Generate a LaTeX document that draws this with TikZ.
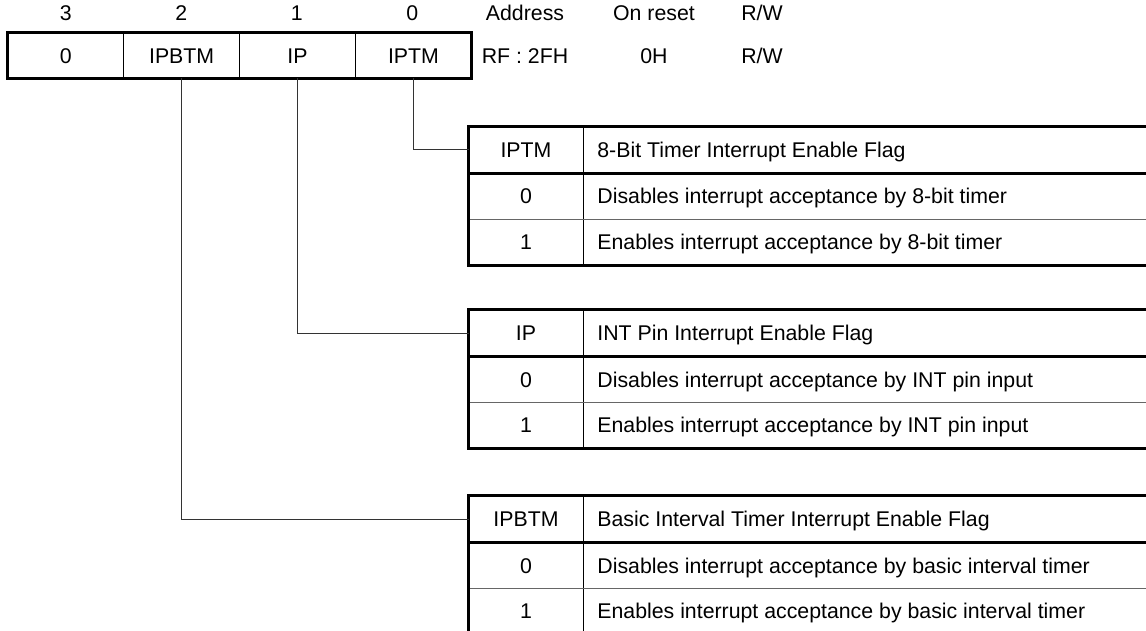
\documentclass[tikz,border=0pt]{standalone}
\usepackage{fontspec}
\setmainfont{Liberation Sans}
\usetikzlibrary{positioning}
\tikzset{
  txt/.style={font=\fontsize{21.3}{25}\selectfont, inner sep=0pt, text height=15.2pt, text depth=0pt},
  regcell/.style={txt, minimum width=115.5pt, minimum height=45pt},
  keycell/.style={txt, minimum width=114pt, minimum height=46pt},
  desccell/.style={txt, anchor=west},
  thickrule/.style={line width=3pt},
  thinrule/.style={line width=1pt},
  grayrule/.style={line width=1pt, black!60},
  leader/.style={line width=1pt, black!80},
}

\begin{document}
\begin{tikzpicture}[x=1pt, y=-1pt]
  \useasboundingbox (0,0) rectangle (1146,631);
  \clip (0,0) rectangle (1146,631);

  % Register: bit numbers and header
  \node[txt] (n3) at (65.75,13) {3};
  \node[txt] (n2) at (181.25,13) {2};
  \node[txt] (n1) at (296.75,13) {1};
  \node[txt] (n0) at (412.25,13) {0};
  \node[txt] (hAddr) at (525,13) {Address};
  \node[txt] (hReset) at (654,13) {On reset};
  \node[txt] (hRW) at (762,13) {R/W};

  % Register: cells
  \node[regcell] (b3) at (65.75,55.5) {0};
  \node[regcell, right=0pt of b3] (b2) {IPBTM};
  \node[regcell, right=0pt of b2] (b1) {IP};
  \node[regcell, right=0pt of b1] (b0) {IPTM};
  \draw[thinrule] (b3.north east) -- (b3.south east);
  \draw[thinrule] (b2.north east) -- (b2.south east);
  \draw[thinrule] (b1.north east) -- (b1.south east);
  \draw[thickrule] (b3.north west) rectangle (b0.south east);
  \node[txt] (vAddr) at (525,55.5) {RF : 2FH};
  \node[txt] (vReset) at (654,55.5) {0H};
  \node[txt] (vRW) at (762,55.5) {R/W};

  % Table 1 - IPTM
  \node[keycell] (t1key) at (526,150) {IPTM};
  \node[keycell, below=0pt of t1key] (t1k0) {0};
  \node[keycell, below=0pt of t1k0, minimum height=45pt] (t1k1) {1};
  \node[desccell, right=14pt of t1key] (t1desc) {8-Bit Timer Interrupt Enable Flag};
  \node[desccell, right=14pt of t1k0] (t1d0) {Disables interrupt acceptance by 8-bit timer};
  \node[desccell, right=14pt of t1k1] (t1d1) {Enables interrupt acceptance by 8-bit timer};
  \draw[thinrule] (t1key.north east) -- (t1k1.south east);
  \draw[grayrule] (t1k0.south west) -- ++(720,0);
  \draw[thickrule] (t1key.south west) -- ++(720,0);
  \draw[thickrule] (t1key.north west) rectangle ([xshift=720pt]t1k1.south west);

  % Table 2 - IP
  \node[keycell] (t2key) at (526,333) {IP};
  \node[keycell, below=0pt of t2key] (t2k0) {0};
  \node[keycell, below=0pt of t2k0, minimum height=45pt] (t2k1) {1};
  \node[desccell, right=14pt of t2key] (t2desc) {INT Pin Interrupt Enable Flag};
  \node[desccell, right=14pt of t2k0] (t2d0) {Disables interrupt acceptance by INT pin input};
  \node[desccell, right=14pt of t2k1] (t2d1) {Enables interrupt acceptance by INT pin input};
  \draw[thinrule] (t2key.north east) -- (t2k1.south east);
  \draw[grayrule] (t2k0.south west) -- ++(720,0);
  \draw[thickrule] (t2key.south west) -- ++(720,0);
  \draw[thickrule] (t2key.north west) rectangle ([xshift=720pt]t2k1.south west);

  % Table 3 - IPBTM
  \node[keycell] (t3key) at (526,519) {IPBTM};
  \node[keycell, below=0pt of t3key] (t3k0) {0};
  \node[keycell, below=0pt of t3k0, minimum height=45pt] (t3k1) {1};
  \node[desccell, right=14pt of t3key] (t3desc) {Basic Interval Timer Interrupt Enable Flag};
  \node[desccell, right=14pt of t3k0] (t3d0) {Disables interrupt acceptance by basic interval timer};
  \node[desccell, right=14pt of t3k1] (t3d1) {Enables interrupt acceptance by basic interval timer};
  \draw[thinrule] (t3key.north east) -- (t3k1.south east);
  \draw[grayrule] (t3k0.south west) -- ++(720,0);
  \draw[thickrule] (t3key.south west) -- ++(720,0);
  \draw[thickrule] (t3key.north west) rectangle ([xshift=720pt]t3k1.south west);

  % Leaders from bits to tables
  \draw[leader] (b0.south) |- (t1key.west);
  \draw[leader] (b1.south) |- (t2key.west);
  \draw[leader] (b2.south) |- (t3key.west);
\end{tikzpicture}
\end{document}
